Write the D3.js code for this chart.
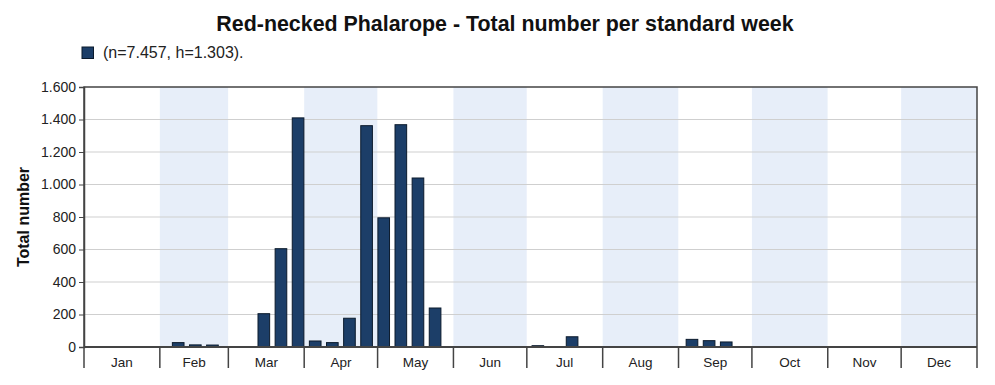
<!DOCTYPE html>
<html><head><meta charset="utf-8">
<script src="https://cdn.jsdelivr.net/npm/d3@7"></script>
<style>body{margin:0;background:#fff;font-family:"Liberation Sans",Arial,sans-serif;}</style>
</head><body><svg id="c" width="995" height="385"></svg>
<script>
const months = ["Jan","Feb","Mar","Apr","May","Jun","Jul","Aug","Sep","Oct","Nov","Dec"];
const monthDays = [31,28,31,30,31,30,31,31,30,31,30,31];
// standard week index (0-based) and total number
const weeks = [5,6,7,10,11,12,13,14,15,16,17,18,19,20,26,28,35,36,37];
const totals = [27,13,12,205,605,1410,37,27,177,1362,795,1368,1040,240,8,63,47,39,31];
const yTicks = [0,200,400,600,800,1000,1200,1400,1600];
const title = "Red-necked Phalarope - Total number per standard week";
const legendText = "(n=7.457, h=1.303).";

const svg = d3.select("#c");
const L=84, R=977, T=87, B=347;
const x = d3.scaleLinear().domain([0,365]).range([L,R]);
const y = d3.scaleLinear().domain([0,1600]).range([B,T]);
const fmt = d3.formatLocale({decimal:",",thousands:".",grouping:[3],currency:["",""]}).format(",d");

const starts = d3.cumsum([0,...monthDays]);
// month shading
svg.append("g").selectAll("rect").data(months).join("rect")
  .attr("x",(d,i)=>x(starts[i])).attr("y",T)
  .attr("width",(d,i)=>x(starts[i+1])-x(starts[i])).attr("height",B-T)
  .attr("fill",(d,i)=>i%2===1?"#e7eef9":"#fff");
// grid
svg.append("g").selectAll("line").data(yTicks.slice(1,-1)).join("line")
  .attr("x1",L).attr("x2",R).attr("y1",d=>y(d)).attr("y2",d=>y(d))
  .attr("stroke","#cfcfcf").attr("stroke-width",1.2);
// bars
const bw = 7*(x(1)-x(0))*0.68;
svg.append("g").selectAll("rect").data(weeks).join("rect")
  .attr("x",(d)=>x(d*7+3.5)-bw/2).attr("width",bw)
  .attr("y",(d,i)=>y(totals[i])).attr("height",(d,i)=>y(0)-y(totals[i]))
  .attr("fill","#1c3e68").attr("stroke","#0b1a2c").attr("stroke-width",1);
// frame
svg.append("path").attr("d",`M${L},${B}V${T}H${R}V${B}`).attr("fill","none")
  .attr("stroke","#444").attr("stroke-width",1.5);
// y axis
const ya = svg.append("g").attr("transform",`translate(${L},0)`)
  .call(d3.axisLeft(y).tickValues(yTicks).tickFormat(fmt).tickSize(5).tickPadding(3));
ya.select(".domain").attr("stroke","#444").attr("stroke-width",1.5);
ya.selectAll(".tick line").attr("stroke","#444");
ya.selectAll("text").attr("font-size",14).attr("fill","#222").attr("font-family","Liberation Sans, Arial, sans-serif");
// x axis
svg.append("line").attr("x1",L).attr("x2",R).attr("y1",B).attr("y2",B).attr("stroke","#444").attr("stroke-width",2);
svg.append("g").selectAll("line").data(d3.range(13)).join("line")
  .attr("x1",i=>x(starts[i])).attr("x2",i=>x(starts[i])).attr("y1",B).attr("y2",B+21)
  .attr("stroke","#444").attr("stroke-width",1.5);
svg.append("g").selectAll("text").data(months).join("text")
  .attr("x",(d,i)=>x((starts[i]+starts[i+1])/2)).attr("y",B+20)
  .attr("text-anchor","middle").attr("font-size",13.5).attr("fill","#222").text(d=>d);
// y label
svg.append("text").attr("transform","translate(29,217) rotate(-90)").attr("text-anchor","middle")
  .attr("font-size",16).attr("font-weight","bold").attr("fill","#111").text("Total number");
// title
svg.append("text").attr("x",505).attr("y",31).attr("text-anchor","middle")
  .attr("font-size",21.4).attr("font-weight","bold").attr("fill","#111").text(title);
// legend
svg.append("rect").attr("x",82).attr("y",47).attr("width",11.5).attr("height",11.5)
  .attr("fill","#1c3e68").attr("stroke","#0b1a2c");
svg.append("text").attr("x",103).attr("y",58).attr("font-size",16).attr("fill","#222").text(legendText);
</script></body></html>
